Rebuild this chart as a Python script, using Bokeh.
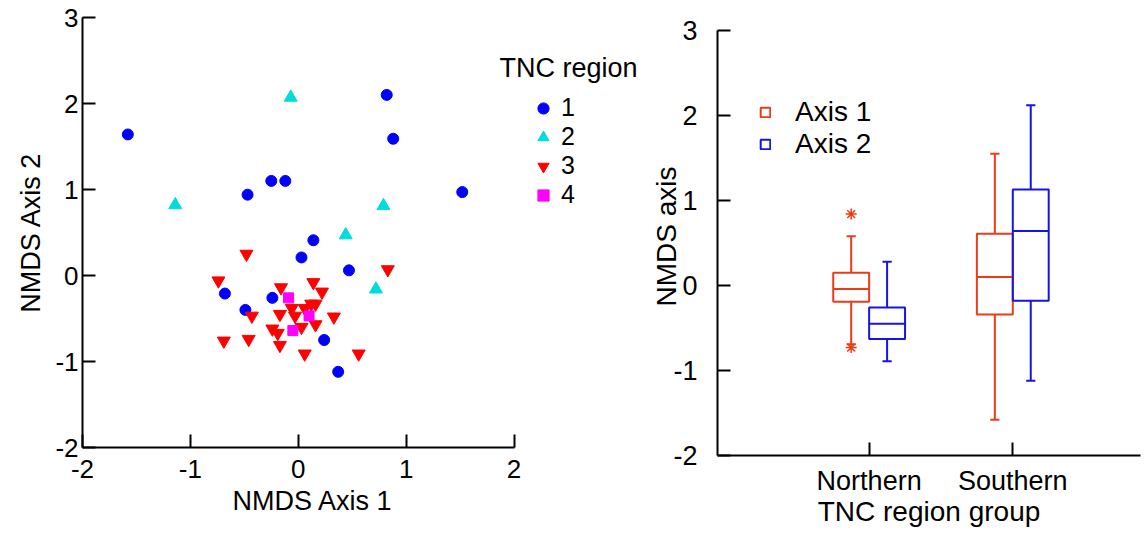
from bokeh.plotting import figure
from bokeh.layouts import row
from bokeh.models import Legend, LegendItem, Label, FixedTicker, Range1d, Title
from bokeh.embed import file_html
from bokeh.resources import INLINE

FONT = "Liberation Sans"

# ---- NMDS scatter data (by TNC region) ----
region1_x = [-1.58, 0.82, 0.88, -0.25, -0.12, -0.47, 1.52, 0.14, 0.03, 0.47, -0.68, -0.24, -0.49, 0.24, 0.37]
region1_y = [1.64, 2.10, 1.59, 1.10, 1.10, 0.94, 0.97, 0.41, 0.21, 0.06, -0.21, -0.26, -0.40, -0.75, -1.12]

region2_x = [-0.07, -1.14, 0.79, 0.44, 0.72]
region2_y = [2.07, 0.82, 0.81, 0.47, -0.16]

region3_x = [-0.48, 0.83, -0.74, -0.16, 0.14, 0.22, 0.12, 0.16, -0.06, 0.06, -0.43, -0.17,
             -0.03, 0.33, -0.24, -0.19, 0.03, 0.16, -0.69, -0.46, -0.17, 0.06, 0.56]
region3_y = [0.25, 0.07, -0.06, -0.14, -0.08, -0.19, -0.33, -0.33, -0.38, -0.38, -0.47, -0.45,
             -0.47, -0.48, -0.62, -0.67, -0.60, -0.57, -0.76, -0.74, -0.81, -0.91, -0.91]

region4_x = [-0.09, 0.10, -0.05]
region4_y = [-0.26, -0.47, -0.64]

region_labels = ["1", "2", "3", "4"]
scatter_ticks_x = [-2, -1, 0, 1, 2]
scatter_ticks_y = [-2, -1, 0, 1, 2, 3]

# ---- Box plot statistics by region group ----
groups = ["Northern", "Southern"]
axis1_lower = [-0.69, -1.58]
axis1_q1 = [-0.19, -0.34]
axis1_median = [-0.04, 0.10]
axis1_q3 = [0.15, 0.61]
axis1_upper = [0.58, 1.55]
axis1_outlier_group = ["Northern", "Northern"]
axis1_outlier_value = [0.84, -0.73]

axis2_lower = [-0.89, -1.12]
axis2_q1 = [-0.63, -0.18]
axis2_median = [-0.45, 0.64]
axis2_q3 = [-0.26, 1.13]
axis2_upper = [0.28, 2.12]

box_ticks_y = [-2, -1, 0, 1, 2, 3]

BLUE = "#0000ff"
CYAN = "#00dcdc"
RED = "#ff0000"
MAGENTA = "#ff00ff"
BOX1 = "#ec3c16"
BOX2 = "#1414e8"


def style_axes(p, tick_size, label_size):
    for ax in (p.xaxis[0], p.yaxis[0]):
        ax.axis_line_color = "black"
        ax.axis_line_width = 2
        ax.major_tick_in = 13
        ax.major_tick_out = 0
        ax.major_tick_line_width = 2
        ax.major_tick_line_color = "black"
        ax.minor_tick_line_color = None
        ax.major_label_text_font = FONT
        ax.major_label_text_font_size = tick_size
        ax.major_label_text_color = "black"
        ax.axis_label_text_font = FONT
        ax.axis_label_text_font_size = label_size
        ax.axis_label_text_font_style = "normal"
        ax.axis_label_text_color = "black"
    p.xgrid.visible = False
    p.ygrid.visible = False
    p.outline_line_color = None
    p.background_fill_color = "white"
    p.border_fill_color = "white"


TOP = 17
BOTTOM = 78

# ================= Left: NMDS scatter =================
W1 = 648
p1 = figure(width=W1, height=525, x_range=Range1d(-2, 3.228), y_range=Range1d(-2, 3),
            output_backend="svg", toolbar_location=None,
            min_border_left=82, min_border_right=2, min_border_top=TOP, min_border_bottom=BOTTOM)
style_axes(p1, "26px", "27px")
p1.xaxis.ticker = FixedTicker(ticks=scatter_ticks_x)
p1.yaxis.ticker = FixedTicker(ticks=scatter_ticks_y)
p1.xaxis.major_label_overrides = {t: str(t) for t in scatter_ticks_x}
p1.yaxis.major_label_overrides = {t: str(t) for t in scatter_ticks_y}
p1.xaxis.bounds = (scatter_ticks_x[0], scatter_ticks_x[-1])
p1.yaxis.axis_label = "NMDS Axis 2"
p1.xaxis.major_label_standoff = 12
p1.yaxis.major_label_standoff = 4
p1.yaxis.axis_label_standoff = 6
# x-axis title centred under the bounded axis (-2..2), not under the wider frame
p1.add_layout(Title(text="NMDS Axis 1", align="left", offset=150, standoff=6, vertical_align="bottom",
                    text_font=FONT, text_font_size="27px", text_font_style="normal",
                    text_color="black"), "below")

r1 = p1.scatter(region1_x, region1_y, marker="circle", size=11, color=BLUE)
r2 = p1.scatter(region2_x, region2_y, marker="triangle", size=13, color=CYAN)
r3 = p1.scatter(region3_x, region3_y, marker="inverted_triangle", size=13, color=RED)
r4 = p1.scatter(region4_x, region4_y, marker="square", size=10, color=MAGENTA)

leg1 = Legend(items=[LegendItem(label=l, renderers=[r]) for l, r in zip(region_labels, [r1, r2, r3, r4])],
              location=(447, 238), orientation="vertical",
              glyph_width=28, glyph_height=28, spacing=0, padding=0, margin=0,
              label_standoff=4, label_text_font=FONT, label_text_font_size="25px",
              label_text_color="black",
              border_line_color=None, background_fill_alpha=0)
p1.add_layout(leg1, "center")
p1.add_layout(Label(x=1.866, y=2.418, text="TNC region", text_font=FONT, text_font_size="27px",
                    text_baseline="middle", text_align="left", text_color="black"))

# ================= Right: box plots =================
W2 = 1145 - W1
p2 = figure(width=W2, height=533, x_range=Range1d(-0.0556, 2.889), y_range=Range1d(-2, 3.153),
            output_backend="svg", toolbar_location=None,
            min_border_left=68, min_border_right=5, min_border_top=TOP, min_border_bottom=BOTTOM)
style_axes(p2, "27px", "28px")
gpos = [i + 1 for i in range(len(groups))]
p2.xaxis.ticker = FixedTicker(ticks=gpos)
p2.xaxis.major_label_overrides = {pos: g for pos, g in zip(gpos, groups)}
p2.yaxis.ticker = FixedTicker(ticks=box_ticks_y)
p2.yaxis.major_label_overrides = {t: str(t) for t in box_ticks_y}
p2.yaxis.bounds = (box_ticks_y[0], box_ticks_y[-1])
p2.xaxis.axis_label = "TNC region group"
p2.yaxis.axis_label = "NMDS axis"
p2.xaxis.major_label_standoff = 10
p2.yaxis.major_label_standoff = 20
p2.xaxis.axis_label_standoff = -3
p2.yaxis.axis_label_standoff = -12

hw = 0.125
cap = 0.032


def draw_boxes(offset, lower, q1, med, q3, upper, color):
    xs = [g + offset for g in gpos]
    rb = p2.vbar(x=xs, width=2 * hw, top=q3, bottom=q1, fill_alpha=0, line_color=color, line_width=2)
    p2.segment(x0=[x - hw for x in xs], y0=med, x1=[x + hw for x in xs], y1=med, line_color=color, line_width=2)
    p2.segment(x0=xs, y0=q3, x1=xs, y1=upper, line_color=color, line_width=2)
    p2.segment(x0=xs, y0=q1, x1=xs, y1=lower, line_color=color, line_width=2)
    p2.segment(x0=[x - cap for x in xs], y0=upper, x1=[x + cap for x in xs], y1=upper, line_color=color, line_width=2)
    p2.segment(x0=[x - cap for x in xs], y0=lower, x1=[x + cap for x in xs], y1=lower, line_color=color, line_width=2)
    return rb


rb1 = draw_boxes(-hw, axis1_lower, axis1_q1, axis1_median, axis1_q3, axis1_upper, BOX1)
rb2 = draw_boxes(hw, axis2_lower, axis2_q1, axis2_median, axis2_q3, axis2_upper, BOX2)
ox = [gpos[groups.index(g)] - hw for g in axis1_outlier_group]
p2.scatter(ox, axis1_outlier_value, marker="asterisk", size=11, line_color=BOX1, line_width=1.5)

leg2 = Legend(items=[LegendItem(label="Axis 1", renderers=[rb1]), LegendItem(label="Axis 2", renderers=[rb2])],
              location=(42, 295), orientation="vertical",
              glyph_width=12, glyph_height=12, spacing=0, padding=0, margin=0,
              label_standoff=24, label_text_font=FONT, label_text_font_size="28px",
              label_text_color="black",
              border_line_color=None, background_fill_alpha=0)
p2.add_layout(leg2, "center")

layout = row(p1, p2)
open("out.html", "w").write(file_html(layout, INLINE))
